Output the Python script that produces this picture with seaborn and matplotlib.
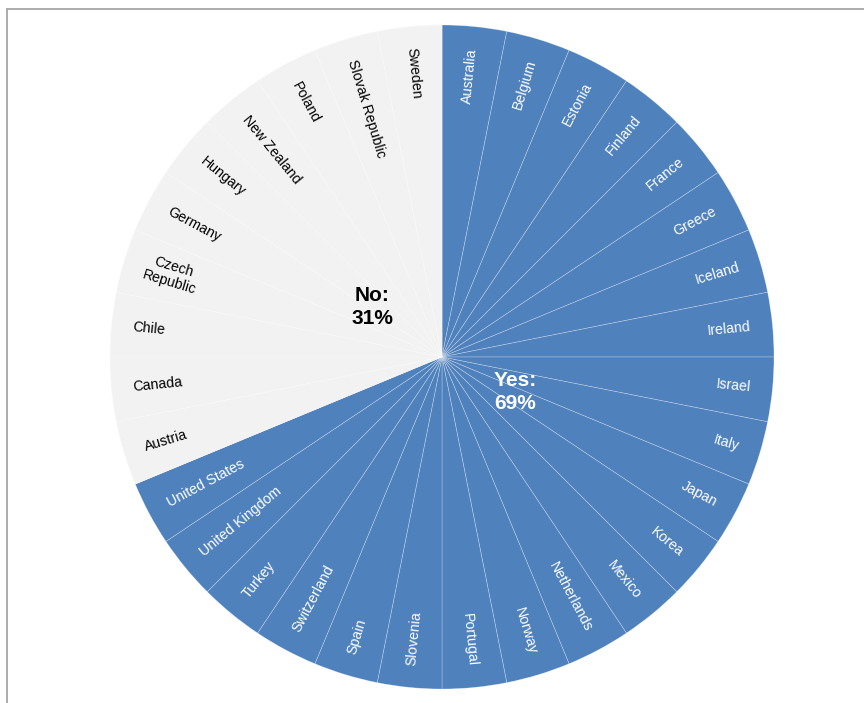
import numpy as np
import matplotlib
matplotlib.use("Agg")
import matplotlib.pyplot as plt
from matplotlib.lines import Line2D
import seaborn as sns

# Countries answering "Yes", clockwise from 12 o'clock
yes_countries = ["Australia", "Belgium", "Estonia", "Finland", "France", "Greece",
                 "Iceland", "Ireland", "Israel", "Italy", "Japan", "Korea", "Mexico",
                 "Netherlands", "Norway", "Portugal", "Slovenia", "Spain",
                 "Switzerland", "Turkey", "United Kingdom", "United States"]
# Countries answering "No", continuing clockwise
no_countries = ["Austria", "Canada", "Chile", "Czech\nRepublic", "Germany", "Hungary",
                "New Zealand", "Poland", "Slovak Republic", "Sweden"]
# Each country counts once
yes_weights = [1] * len(yes_countries)
no_weights = [1] * len(no_countries)

group_labels = ["Yes:", "No:"]

sns.set_theme(style="white")
plt.rcParams["font.family"] = ["Liberation Sans", "DejaVu Sans"]

blue = "#4f81bd"
grey = "#f2f2f2"

labels = yes_countries + no_countries
weights = yes_weights + no_weights
colors = [blue] * len(yes_countries) + [grey] * len(no_countries)
total = sum(weights)
yes_pct = round(100 * sum(yes_weights) / total)
no_pct = round(100 * sum(no_weights) / total)

fig = plt.figure(figsize=(8.64, 7.03), dpi=100)
W, H = 864, 703
cx, cy, R = 442, 357, 332
ax = fig.add_axes([(cx - R) / W, (H - cy - R) / H, 2 * R / W, 2 * R / H])

wedges, _ = ax.pie(weights, colors=colors, startangle=90, counterclock=False,
                   radius=1.0,
                   wedgeprops=dict(edgecolor=(1, 1, 1, 0.35), linewidth=0.5))
# Dividers between the pale slices are barely visible
for w, col in zip(wedges, colors):
    if col == grey:
        w.set_edgecolor((0.975, 0.975, 0.975, 1.0))
        w.set_linewidth(0.4)

ax.set_xlim(-1, 1)
ax.set_ylim(-1, 1)
ax.set_aspect("equal")
ax.axis("off")

# Radial country labels near the rim
r_lab = 0.935
for w, name, col in zip(wedges, labels, colors):
    theta = 0.5 * (w.theta1 + w.theta2)
    t = np.deg2rad(theta)
    x, y = r_lab * np.cos(t), r_lab * np.sin(t)
    txt_col = "white" if col == blue else "black"
    ang = (theta + 180) % 360 - 180
    if -90 <= ang <= 90:
        rot, ha = ang, "right"
    else:
        rot, ha = ang - 180 if ang > 0 else ang + 180, "left"
    ax.text(x, y, name, rotation=rot, rotation_mode="anchor", ha=ha, va="center",
            color=txt_col, fontsize=10.2, multialignment="center")

# Group totals
bold_family = ["Liberation Sans Narrow", "Liberation Sans", "DejaVu Sans"]
ax.text(73 / R, -35 / R, f"{group_labels[0]}\n{yes_pct}%", ha="center", va="center",
        color="white", fontsize=15, fontweight="bold", family=bold_family,
        linespacing=1.25)
ax.text(-70 / R, 50 / R, f"{group_labels[1]}\n{no_pct}%", ha="center", va="center",
        color="black", fontsize=15, fontweight="bold", family=bold_family,
        linespacing=1.25)

# Panel frame
frame_col = "#a6a6a6"
fig.add_artist(Line2D([6.5 / W, 6.5 / W], [0, 1 - 8.5 / H], transform=fig.transFigure,
                      color=frame_col, lw=1.3))
fig.add_artist(Line2D([6.5 / W, 1], [1 - 8.5 / H, 1 - 8.5 / H], transform=fig.transFigure,
                      color=frame_col, lw=1.3))

fig.savefig("out.png", dpi=100, facecolor="white")
